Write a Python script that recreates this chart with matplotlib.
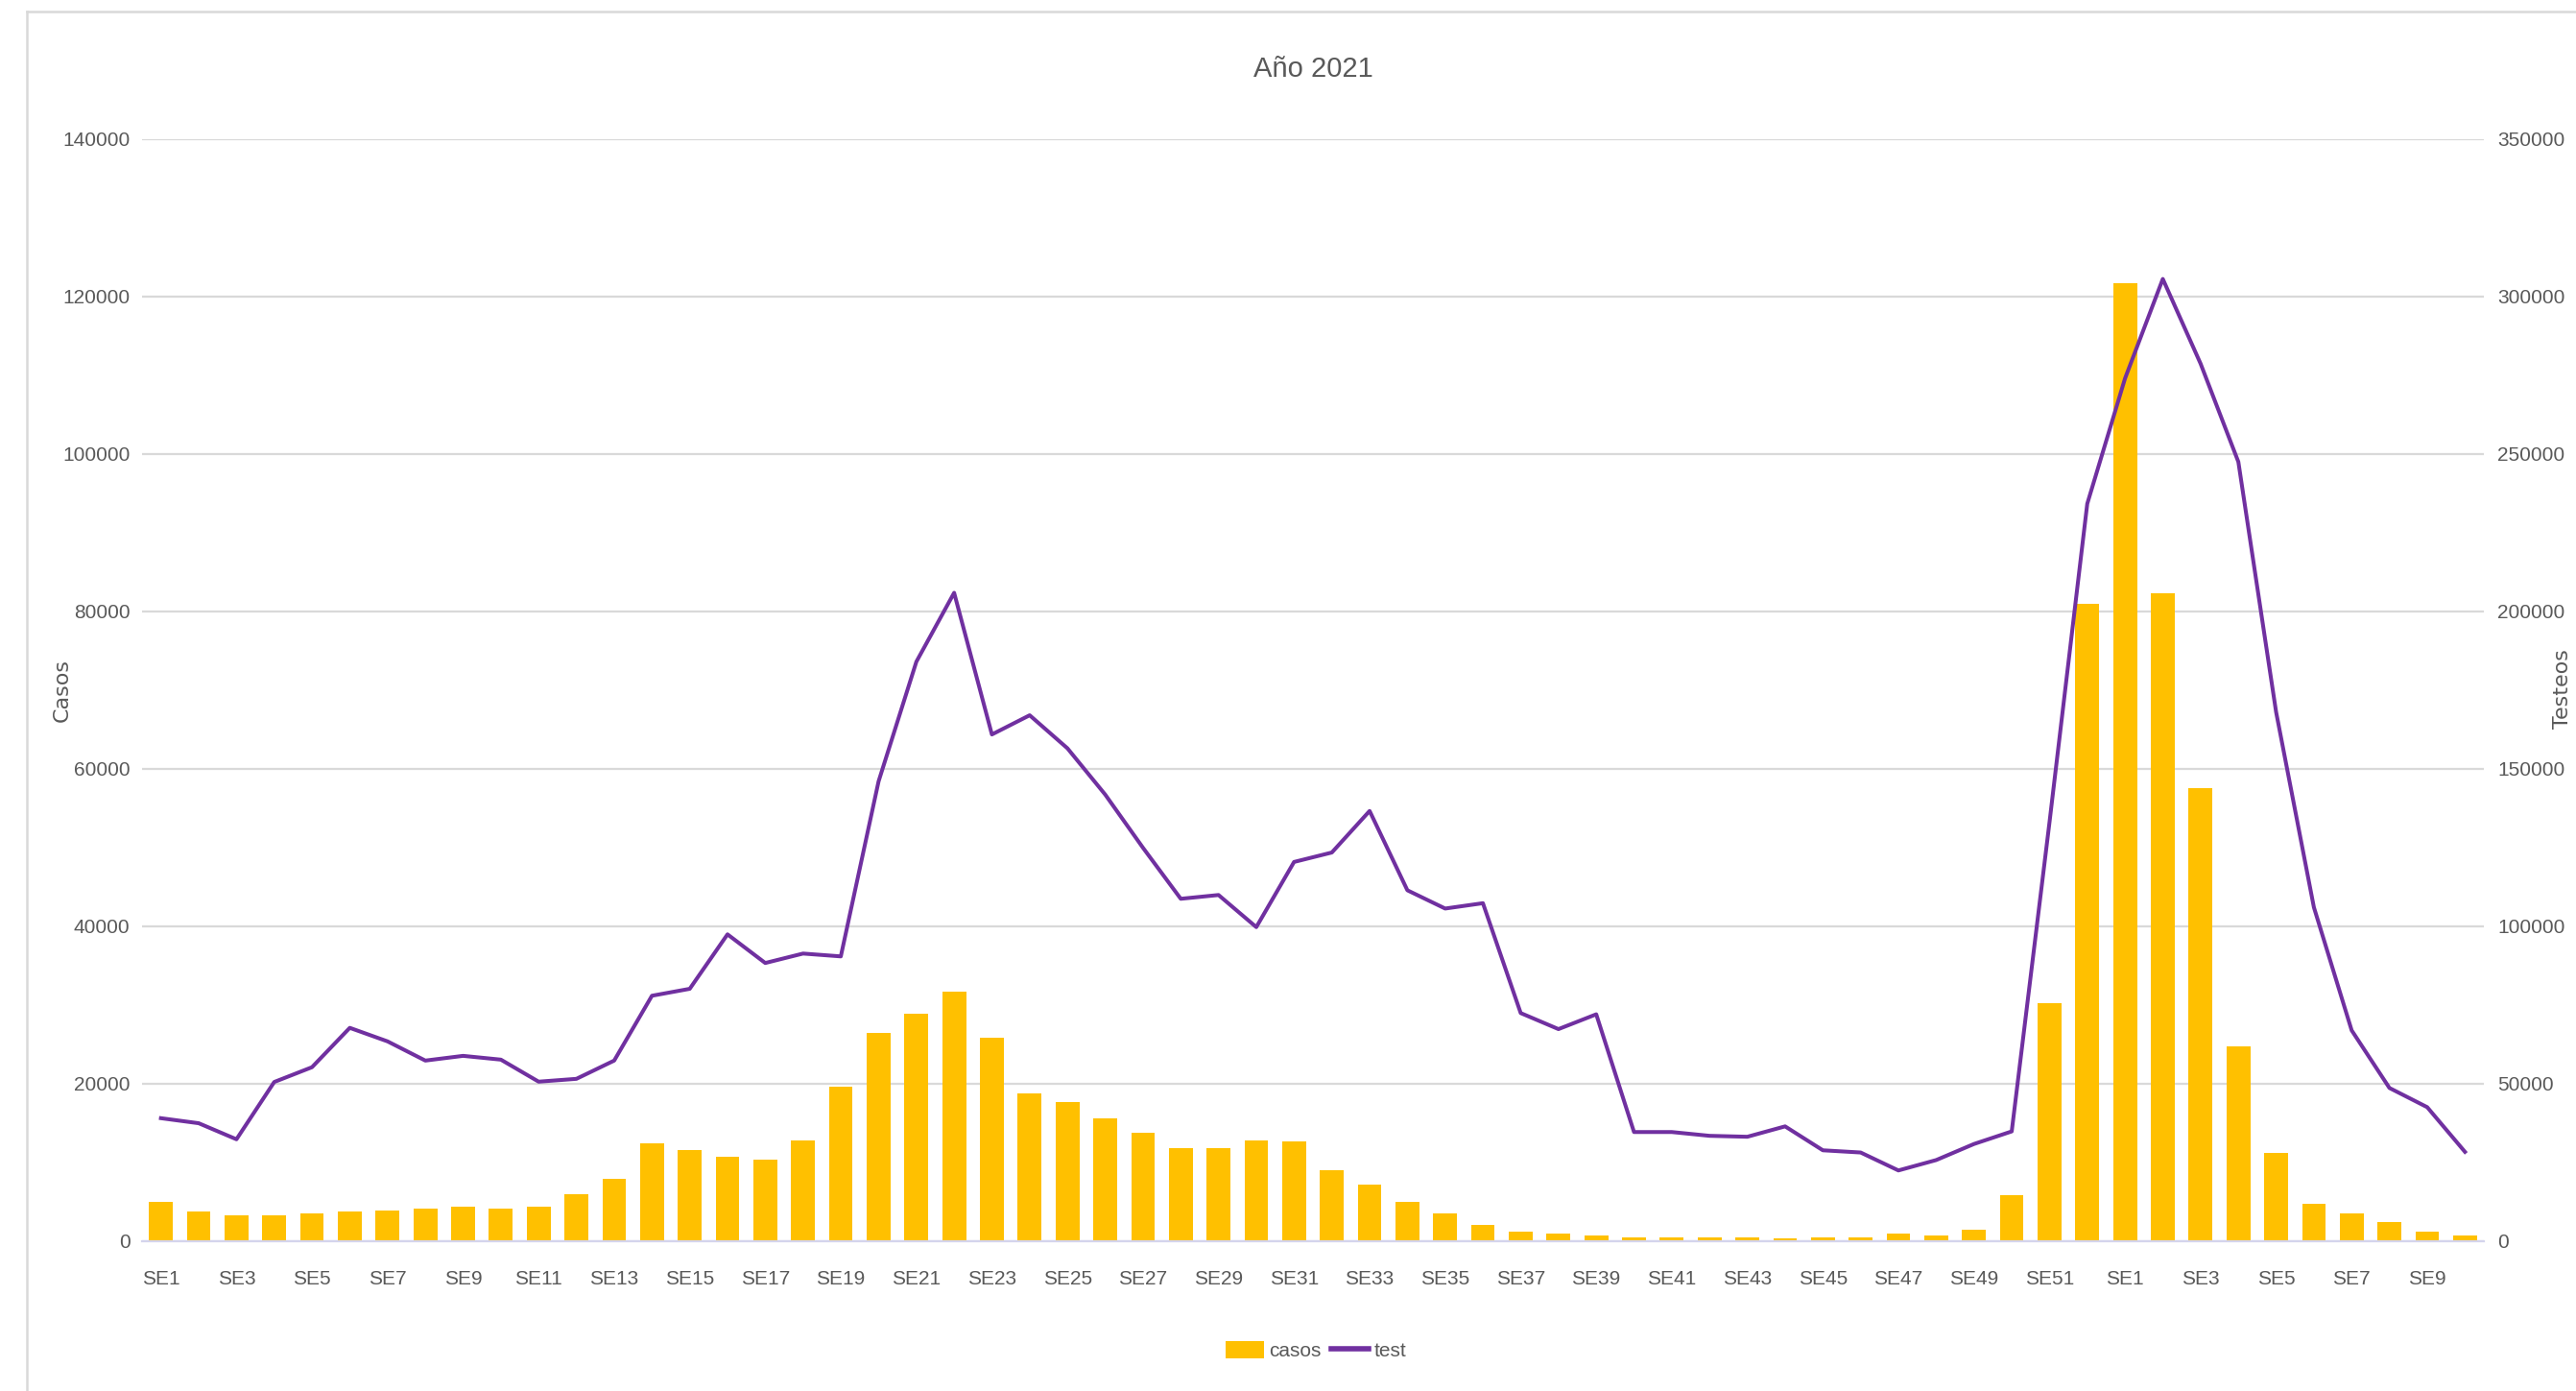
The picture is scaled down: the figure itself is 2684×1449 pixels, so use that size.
"""
Casos vs testeos por semana epidemiológica — Año 2021 (gráfico combinado barras + línea)
"""
import matplotlib
matplotlib.use('Agg')
import matplotlib.pyplot as plt
from matplotlib.lines import Line2D
from matplotlib.patches import Patch
import numpy as np

NARROW = ['Liberation Sans', 'DejaVu Sans']
WIDE = ['DejaVu Sans']
plt.rcParams['font.family'] = NARROW

# semanas: SE1..SE52 de 2021 y SE1..SE10 de 2022
semanas = [f"SE{i}" for i in range(1, 53)] + [f"SE{i}" for i in range(1, 11)]

casos_2021 = [5000, 3700, 3300, 3300, 3500, 3700, 3900, 4100, 4350, 4100,
              4350, 6000, 7900, 12400, 11600, 10700, 10300, 12800, 19600, 26400,
              28900, 31700, 25800, 18800, 17700, 15600, 13700, 11800, 11800, 12800,
              12600, 9000, 7100, 5000, 3500, 2000, 1200, 1000, 700, 500,
              500, 500, 500, 300, 500, 500, 1000, 700, 1400, 5800,
              30200, 81000]
casos_2022 = [121700, 82300, 57600, 24700, 11150, 4760, 3500, 2440, 1180, 730]

test_2021 = [39000, 37400, 32300, 50500, 55200, 67700, 63400, 57300, 58800, 57600,
             50600, 51500, 57300, 77900, 80100, 97400, 88300, 91300, 90400, 146000,
             184000, 205900, 160900, 167000, 156500, 141800, 124900, 108700, 109900, 99700,
             120400, 123400, 136600, 111400, 105600, 107300, 72400, 67300, 72000, 34600,
             34600, 33400, 33100, 36400, 28800, 28100, 22400, 25700, 30800, 34800,
             133000, 234200]
test_2022 = [274000, 305600, 278700, 247500, 168000, 106000, 66900, 48600, 42500, 28300]

casos = casos_2021 + casos_2022
test = test_2021 + test_2022

GOLD = '#FFC000'
PURPLE = '#7030A0'
GRID = '#D9D9D9'
TXT = '#595959'

W, H = 2684, 1449
fig = plt.figure(figsize=(W / 100, H / 100), dpi=100)
fig.patch.set_facecolor('white')

# área del gráfico (px -> fracción)
L, R, T, B = 148, 2588, 145, 1292.7
ax = fig.add_axes([L / W, 1 - B / H, (R - L) / W, (B - T) / H])
ax2 = ax.twinx()

x = np.arange(len(semanas))
ax.bar(x, casos, width=0.63, color=GOLD, zorder=2)
ax2.plot(x, test, color=PURPLE, linewidth=2.9, solid_joinstyle='round', zorder=3)

ax.set_xlim(-0.5, len(semanas) - 0.5)
ax.set_ylim(0, 140000)
ax2.set_ylim(0, 350000)
ax.set_yticks(np.arange(0, 140001, 20000))
ax2.set_yticks(np.arange(0, 350001, 50000))
ax.set_xticks(x[::2])
ax.set_xticklabels(semanas[::2])

ax.grid(axis='y', color=GRID, linewidth=1.6, zorder=0)
ax.set_axisbelow(True)
for a in (ax, ax2):
    for s in a.spines.values():
        s.set_visible(False)
ax.spines['bottom'].set_visible(True)
ax.spines['bottom'].set_color('#D4D4EC')
ax.spines['bottom'].set_linewidth(1.6)

ax.tick_params(axis='y', length=0, pad=9, labelsize=15, labelcolor=TXT)
ax2.tick_params(axis='y', length=0, pad=10, labelsize=15, labelcolor=TXT)
ax.tick_params(axis='x', length=0, pad=22, labelsize=15, labelcolor=TXT)

# título y títulos de ejes
fig.text((L + R) / 2 / W, 1 - 72 / H, 'Año 2021', ha='center', va='center',
         fontsize=21, color=TXT)
fig.text(65 / W, 1 - 719 / H, 'Casos', rotation=90, ha='center', va='center',
         fontsize=16, color=TXT, family=WIDE)
fig.text(2670 / W, 1 - 718 / H, 'Testeos', rotation=90, ha='center', va='center',
         fontsize=16, color=TXT, family=WIDE)

# leyenda
handles = [Patch(facecolor=GOLD, edgecolor='none', label='casos'),
           Line2D([0], [0], color=PURPLE, linewidth=4, label='test')]
fig.legend(handles=handles, loc='center', bbox_to_anchor=(1371 / W, 1 - 1407 / H),
           ncol=2, frameon=False, fontsize=15, labelcolor=TXT,
           handlelength=1.9, handleheight=1.0, handletextpad=0.25, columnspacing=0.5)

# borde del área del gráfico (solo izquierda y arriba visibles)
fig.add_artist(Line2D([28 / W, 28 / W], [0, 1 - 12 / H], color=GRID, linewidth=1.8))
fig.add_artist(Line2D([28 / W, 1], [1 - 12 / H, 1 - 12 / H], color=GRID, linewidth=1.8))

plt.savefig('out.png', dpi=100, facecolor='white')
plt.close()
